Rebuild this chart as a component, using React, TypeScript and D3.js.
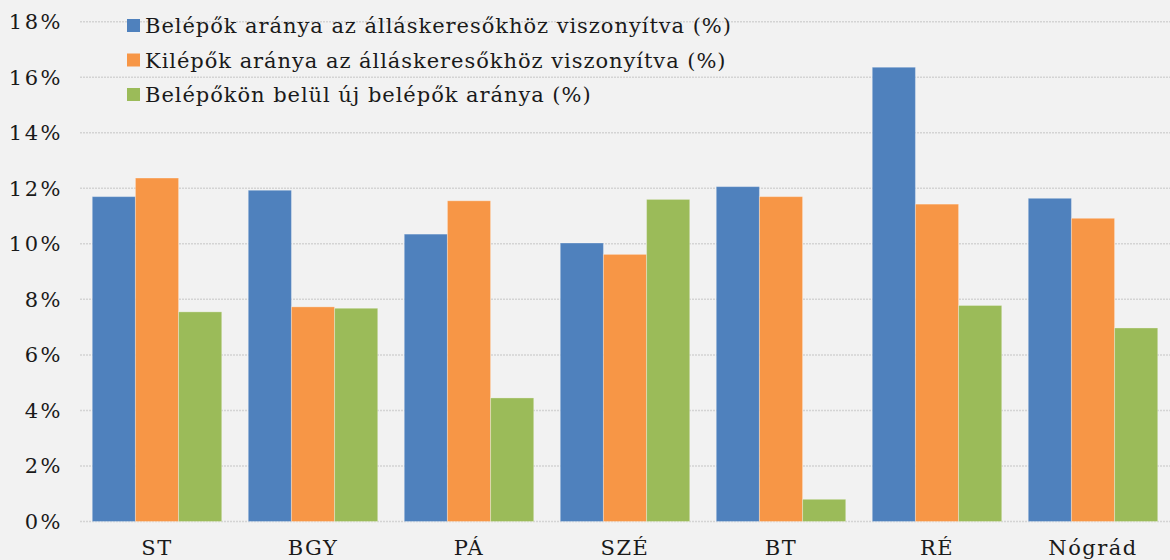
import React from 'react';
import * as d3 from 'd3';

// adatok
const categories = ['ST', 'BGY', 'PÁ', 'SZÉ', 'BT', 'RÉ', 'Nógrád'];
const seriesNames = [
  'Belépők aránya az álláskeresőkhöz viszonyítva (%)',
  'Kilépők aránya az álláskeresőkhöz viszonyítva (%)',
  'Belépőkön belül új belépők aránya (%)',
];
const belepok = [11.7, 11.93, 10.35, 10.03, 12.06, 16.36, 11.64];
const kilepok = [12.37, 7.73, 11.55, 9.62, 11.7, 11.43, 10.92];
const ujBelepok = [7.55, 7.68, 4.45, 11.6, 0.8, 7.78, 6.97];
const yTicks = [0, 2, 4, 6, 8, 10, 12, 14, 16, 18];
const colors = ['#4f81bd', '#f79646', '#9bbb59'];

const W = 1170;
const H = 560;
const FONT = 'DejaVu Serif, serif';

export default function App() {
  const series = [belepok, kilepok, ujBelepok];

  const x = d3.scaleBand<string>()
    .domain(categories)
    .range([79, 1171])
    .paddingInner(0.17)
    .paddingOuter(0.085);
  const x1 = d3.scaleBand<number>()
    .domain([0, 1, 2])
    .range([0, x.bandwidth()]);
  const y = d3.scaleLinear().domain([0, 18]).range([521.5, 21.7]);

  return (
    <svg width={W} height={H} style={{ position: 'absolute', left: 0, top: 0, background: '#f2f2f2' }}>
      <rect x={0} y={0} width={W} height={H} fill="#f2f2f2" />
      {/* gridlines */}
      {yTicks.map(t => (
        <line key={'g' + t} x1={80} x2={1170} y1={y(t)} y2={y(t)}
          stroke="#d4d4d4" strokeWidth={1.5} strokeDasharray="2 1" />
      ))}
      {/* y labels */}
      {yTicks.map(t => (
        <text key={'y' + t} x={63} y={y(t) + 7.5} textAnchor="end" letterSpacing={2.5}
          fontFamily={FONT} fontSize={21} fill="#1a1a1a">{t}%</text>
      ))}
      {/* bars */}
      {categories.map((c, ci) => (
        <g key={c} transform={`translate(${x(c)},0)`}>
          {series.map((s, si) => (
            <rect key={si} x={x1(si)} width={x1.bandwidth()} y={y(s[ci])}
              height={y(0) - y(s[ci])} fill={colors[si]}
              stroke="#ffffff" strokeOpacity={0.3} strokeWidth={1} />
          ))}
        </g>
      ))}
      {/* x labels */}
      {categories.map(c => (
        <text key={'x' + c} x={(x(c) as number) + x.bandwidth() / 2} y={555}
          textAnchor="middle" letterSpacing={1.5} fontFamily={FONT} fontSize={21} fill="#1a1a1a">{c}</text>
      ))}
      {/* legend */}
      {seriesNames.map((n, i) => (
        <g key={n} transform={`translate(127,${19 + i * 34.5})`}>
          <rect x={0} y={0} width={13} height={13} fill={colors[i]} />
          <text x={18} y={14} fontFamily={FONT} fontSize={21} letterSpacing={0.95} fill="#1a1a1a">{n}</text>
        </g>
      ))}
    </svg>
  );
}
